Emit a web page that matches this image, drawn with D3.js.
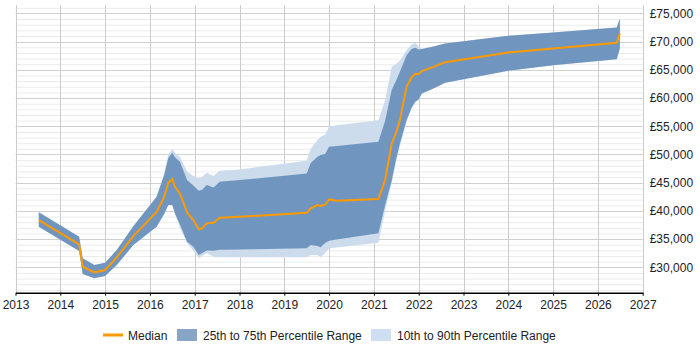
<!DOCTYPE html>
<html><head><meta charset="utf-8">
<script src="https://cdn.jsdelivr.net/npm/d3@7"></script>
<style>body{margin:0;background:#fff;font-family:"Liberation Sans",Arial,sans-serif;}</style>
</head><body><svg id="c" width="700" height="350"></svg>
<script>
const dates = [2013.52,2014.42,2014.5,2014.76,2015.0,2015.26,2015.63,2016.15,2016.32,2016.41,2016.5,2016.56,2016.67,2016.83,2016.97,2017.09,2017.16,2017.27,2017.42,2017.56,2018.0,2019.5,2019.59,2019.74,2019.81,2019.91,2020.0,2020.17,2021.1,2021.25,2021.4,2021.49,2021.58,2021.73,2021.84,2021.92,2022.0,2022.07,2022.33,2022.59,2024.0,2025.0,2026.42,2026.49];
const median = [38380,34070,30100,29110,29520,31770,35540,39800,42500,44990,45640,44280,43100,39740,38380,36730,36900,37790,37900,38790,38960,39670,40450,41040,40860,41090,42040,41800,42100,45500,52000,53800,56100,62050,63660,64250,64250,64780,65540,66370,68090,68800,69790,71460];
const p75 = [39740,35420,31590,30400,30810,33060,37300,42500,46400,49400,50300,49500,48710,45460,44520,43570,43690,44580,44170,45160,45460,46650,48500,49600,49890,50070,51360,51500,52250,56000,61500,63000,64650,67610,68700,68900,68620,68700,69150,69680,71030,71630,72520,74110];
const p25 = [37190,32900,28810,28050,28450,30400,33950,37190,39500,41030,41030,39560,37600,34530,33650,32180,32500,33000,32940,33100,33180,33360,33950,33770,33540,34300,34710,34950,36020,41000,45460,49000,51970,56100,58300,59300,59760,60800,61710,62700,64830,65840,66900,68800];
const p90 = [39740,35420,31590,30400,30810,33060,37300,42500,46700,50000,50960,50300,49590,46940,46200,45770,46000,46760,46170,47110,47360,48880,51000,52550,53140,53500,54910,55200,56090,59600,65600,66000,66600,68500,69500,69790,69200,68700,69150,69680,71030,71630,72520,74110];
const p10 = [37190,32900,28810,28050,28450,30400,33950,37190,39500,41030,41030,39400,37000,34250,33000,31590,32000,32480,31880,31800,31770,31770,32180,32180,31770,32500,33360,33500,34360,40000,45000,48500,51500,55800,58100,59200,59760,60800,61710,62700,64830,65840,66900,68800];
const xTicks = [2013,2014,2015,2016,2017,2018,2019,2020,2021,2022,2023,2024,2025,2026,2027];
const yTicks = [30000,35000,40000,45000,50000,55000,60000,65000,70000,75000];
const legendLabels = ["Median","25th to 75th Percentile Range","10th to 90th Percentile Range"];

const svg = d3.select("#c");
const L = 15.5, R = 642.7, T = 5, B = 292.7;
const x = d3.scaleLinear().domain([2013,2027]).range([L,R]);
const y = d3.scaleLinear().domain([25500,76500]).range([B,T]);

// minor grid
const minor = d3.range(26000,76001,1000).filter(v=>v%5000!==0);
svg.append("g").selectAll("line").data(minor).join("line")
  .attr("x1",L).attr("x2",R).attr("y1",d=>y(d)+0.5).attr("y2",d=>y(d)+0.5)
  .attr("stroke","#ebebeb").attr("stroke-width",1);
svg.append("g").selectAll("line").data(yTicks).join("line")
  .attr("x1",L).attr("x2",R).attr("y1",d=>Math.round(y(d))+0.5).attr("y2",d=>Math.round(y(d))+0.5)
  .attr("stroke","#d0d0d0").attr("stroke-width",1);
svg.append("g").selectAll("line").data(xTicks).join("line")
  .attr("x1",d=>Math.round(x(d))+0.5).attr("x2",d=>Math.round(x(d))+0.5).attr("y1",T).attr("y2",B)
  .attr("stroke","#cccccc").attr("stroke-width",1);

const pts = dates.map((d,i)=>({d, m:median[i], a:p25[i], b:p75[i], c:p10[i], e:p90[i]}));
const area = (lo,hi)=>d3.area().x(d=>x(d.d)).y0(d=>y(d[lo])).y1(d=>y(d[hi]));
svg.append("path").datum(pts).attr("d",area("c","e")).attr("fill","#cddcec");
svg.append("path").datum(pts).attr("d",area("a","b")).attr("fill","#7096bf");
svg.append("path").datum(pts).attr("d",d3.line().x(d=>x(d.d)).y(d=>y(d.m)))
  .attr("fill","none").attr("stroke","#ff9900").attr("stroke-width",2);

// x axis
const xa = svg.append("g").attr("transform",`translate(0,${B})`)
  .call(d3.axisBottom(x).tickValues(xTicks).tickFormat(d3.format("d")).tickSize(3).tickSizeOuter(0));
xa.select(".domain").attr("stroke","#000").attr("stroke-width",1.5);
xa.selectAll(".tick line").attr("stroke","#000");
xa.selectAll("text").attr("font-family","Liberation Sans, Arial, sans-serif").attr("font-size",12).attr("fill","#222").attr("dy","0.9em");

// y labels
const ya = svg.append("g").attr("transform",`translate(${R},0)`)
  .call(d3.axisRight(y).tickValues(yTicks).tickFormat(d=>"£"+d3.format(",")(d)).tickSize(0));
ya.select(".domain").remove();
ya.selectAll("text").attr("x",7).attr("font-family","Liberation Sans, Arial, sans-serif").attr("font-size",12).attr("fill","#222");

// legend
const lg = svg.append("g").attr("font-family","Liberation Sans, Arial, sans-serif").attr("font-size",12).attr("fill","#222");
lg.append("line").attr("x1",103).attr("x2",123).attr("y1",335).attr("y2",335).attr("stroke","#ff9900").attr("stroke-width",3);
lg.append("text").attr("x",128).attr("y",339.5).text(legendLabels[0]);
lg.append("rect").attr("x",177).attr("y",329).attr("width",20).attr("height",12).attr("fill","#87a5c7");
lg.append("text").attr("x",203).attr("y",339.5).text(legendLabels[1]);
lg.append("rect").attr("x",371).attr("y",329).attr("width",20).attr("height",12).attr("fill","#cddff0");
lg.append("text").attr("x",397).attr("y",339.5).text(legendLabels[2]);
</script></body></html>
